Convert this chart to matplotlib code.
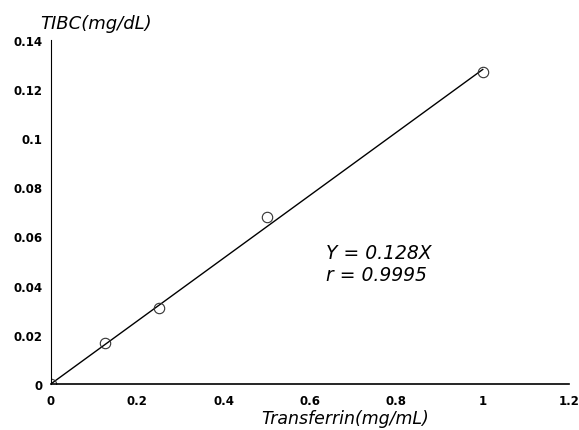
import numpy as np
import matplotlib
matplotlib.use('Agg')
import matplotlib.pyplot as plt

# calibration data
transferrin = [0.0, 0.125, 0.25, 0.5, 1.0]
tibc = [0.0, 0.0165, 0.031, 0.068, 0.127]
slope = 0.128
r_value = 0.9995
x_ticks = [0, 0.2, 0.4, 0.6, 0.8, 1, 1.2]
y_ticks = [0, 0.02, 0.04, 0.06, 0.08, 0.1, 0.12, 0.14]

plt.rcParams['font.family'] = ['DejaVu Sans']

fig = plt.figure(figsize=(5.79, 4.31), dpi=100)
ax = fig.add_axes([0.088, 0.107, 0.895, 0.798])

fit_x = np.array([0.0, 1.0])
ax.plot(fit_x, slope * fit_x, color='black', linewidth=1.0)
ax.plot(transferrin, tibc, linestyle='none', marker='o', markersize=7.5,
        markerfacecolor='none', markeredgecolor='#333333', markeredgewidth=0.8)

ax.set_xlim(0, 1.2)
ax.set_ylim(0, 0.14)
ax.set_xticks(x_ticks)
ax.set_xticklabels([f'{v:g}' for v in x_ticks])
ax.set_yticks(y_ticks)
ax.set_yticklabels([f'{v:g}' for v in y_ticks])
ax.tick_params(length=0, labelsize=8.5)
ax.tick_params(axis='x', pad=7)
ax.tick_params(axis='y', pad=6)
for lbl in ax.get_xticklabels() + ax.get_yticklabels():
    lbl.set_fontweight('bold')

for side in ['top', 'right']:
    ax.spines[side].set_visible(False)
ax.spines['left'].set_linewidth(0.8)
ax.spines['bottom'].set_linewidth(1.2)

# axis titles sit off-centre in the original
fig.text(0.596, 0.028, 'Transferrin(mg/mL)', fontsize=12.5, style='italic',
         ha='center', va='center')
fig.text(0.069, 0.945, 'TIBC(mg/dL)', fontsize=13, style='italic',
         ha='left', va='center')

ax.text(0.638, 0.0533, f'Y = {slope:g}X', fontsize=13.5, style='italic',
        ha='left', va='center')
ax.text(0.638, 0.0444, f'r = {r_value:g}', fontsize=13.5, style='italic',
        ha='left', va='center')

fig.savefig('out.png', dpi=100)
